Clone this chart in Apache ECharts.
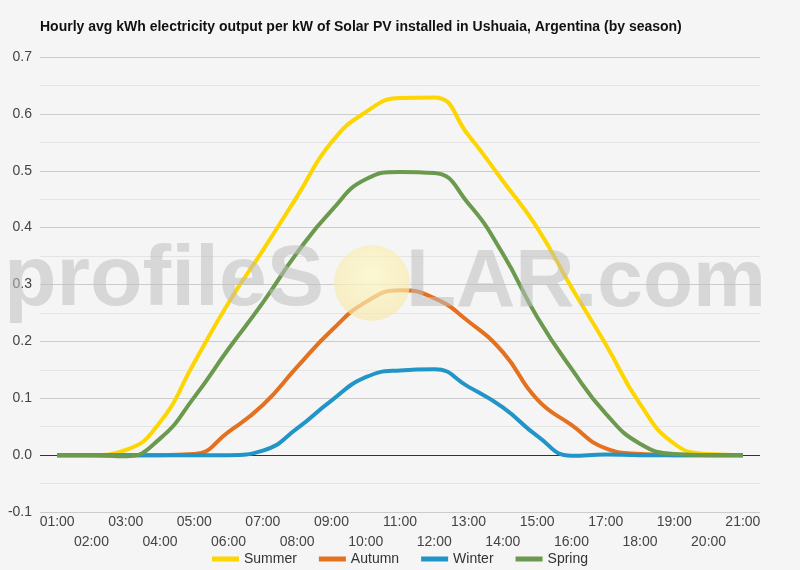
<!DOCTYPE html>
<html>
<head>
<meta charset="utf-8">
<script src="https://cdn.jsdelivr.net/npm/echarts@6/dist/echarts.min.js"></script>
<style>
  html, body { margin: 0; padding: 0; background: #f5f5f5; }
  #chart { width: 800px; height: 570px; }
</style>
</head>
<body>
<div id="chart"></div>
<script>
// hours on the x axis
const hours = ['01:00', '02:00', '03:00', '04:00', '05:00', '06:00', '07:00', '08:00', '09:00', '10:00', '11:00',
  '12:00', '13:00', '14:00', '15:00', '16:00', '17:00', '18:00', '19:00', '20:00', '21:00'];

// kWh per kW
const summer = [0, 0, 0.009, 0.058, 0.163, 0.268, 0.36, 0.455, 0.55, 0.603, 0.628, 0.629, 0.562, 0.482, 0.4, 0.295, 0.195, 0.09, 0.02, 0.002, 0];
const autumn = [0, 0, 0, 0, 0.002, 0.041, 0.088, 0.155, 0.219, 0.269, 0.29, 0.276, 0.235, 0.181, 0.098, 0.053, 0.012, 0.002, 0, 0, 0];
const winter = [0, 0, 0, 0, 0, 0, 0.008, 0.047, 0.096, 0.137, 0.149, 0.151, 0.12, 0.084, 0.034, -0.001, 0.001, 0, 0, 0, 0];
const spring = [0, 0, -0.002, 0.029, 0.102, 0.187, 0.268, 0.356, 0.43, 0.485, 0.498, 0.496, 0.442, 0.354, 0.243, 0.152, 0.073, 0.02, 0.002, 0, 0];

const chart = echarts.init(document.getElementById('chart'));

function line(name, data, color) {
  return {
    name: name,
    type: 'line',
    data: data,
    smooth: 0.5,
    symbol: 'none',
    lineStyle: { width: 4, color: color },
    itemStyle: { color: color }
  };
}

// darker line at 0.0, light grey elsewhere
const gridColors = ['#cccccc', '#333333', '#cccccc', '#cccccc', '#cccccc', '#cccccc', '#cccccc', '#cccccc', '#cccccc'];
const markFill = 'rgba(190,190,190,0.55)';

chart.setOption({
  backgroundColor: '#f5f5f5',
  textStyle: { fontFamily: 'Arial, "Liberation Sans", sans-serif' },
  title: {
    text: 'Hourly avg kWh electricity output per kW of Solar PV installed in Ushuaia, Argentina (by season)',
    left: 40,
    top: 20,
    padding: 0,
    textStyle: { fontSize: 14, fontWeight: 'bold', color: '#111' }
  },
  grid: { left: 40, right: 40, top: 57, bottom: 58 },
  legend: {
    top: 547,
    left: 'center',
    itemWidth: 27,
    itemHeight: 5,
    itemGap: 22,
    icon: 'rect',
    textStyle: { fontSize: 14, color: '#333' },
    data: ['Summer', 'Autumn', 'Winter', 'Spring']
  },
  xAxis: {
    type: 'category',
    data: hours,
    boundaryGap: true,
    axisLine: { show: false },
    axisTick: { show: false },
    axisLabel: {
      interval: 0,
      margin: 0,
      fontSize: 14,
      color: '#444',
      lineHeight: 20,
      formatter: (v, i) => (i % 2 ? '\n' + v : v)
    }
  },
  yAxis: {
    type: 'value',
    min: -0.1,
    max: 0.7,
    interval: 0.1,
    axisLine: { show: false },
    axisTick: { show: false },
    axisLabel: { fontSize: 14, color: '#444', margin: 8, formatter: v => v.toFixed(1) },
    splitLine: { lineStyle: { color: gridColors, width: 1 } },
    minorTick: { show: false, splitNumber: 2 },
    minorSplitLine: { show: true, lineStyle: { color: '#e4e4e4' } }
  },
  graphic: [
    {
      type: 'text', left: 4, top: 238, z: 100, silent: true,
      style: { text: 'profileS', font: 'bold 86px Arial, "Liberation Sans", sans-serif', fill: markFill }
    },
    {
      type: 'circle', z: 99, silent: true,
      shape: { cx: 372, cy: 283, r: 38 },
      style: {
        fill: {
          type: 'radial', x: 0.5, y: 0.4, r: 0.6,
          colorStops: [{ offset: 0, color: 'rgba(253,249,200,0.75)' }, { offset: 1, color: 'rgba(248,232,170,0.65)' }]
        }
      }
    },
    {
      type: 'text', left: 406, top: 242, z: 100, silent: true,
      style: { text: 'LAR.com', font: 'bold 82px Arial, "Liberation Sans", sans-serif', fill: markFill }
    }
  ],
  series: [
    line('Summer', summer, '#fdd500'),
    line('Autumn', autumn, '#e3711f'),
    line('Winter', winter, '#2194c8'),
    line('Spring', spring, '#6b994e')
  ]
});
</script>
</body>
</html>
